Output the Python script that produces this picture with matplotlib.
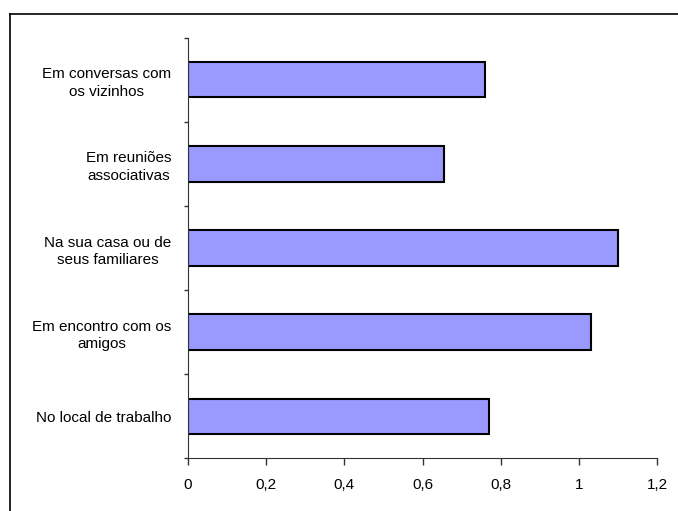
import matplotlib
matplotlib.use("Agg")
import matplotlib.pyplot as plt
from matplotlib.lines import Line2D

categories = [
    "Em conversas com\nos vizinhos",
    "Em reuniões\nassociativas",
    "Na sua casa ou de\nseus familiares",
    "Em encontro com os\namigos",
    "No local de trabalho",
]
values = [0.76, 0.655, 1.10, 1.03, 0.77]
xticks = [0, 0.2, 0.4, 0.6, 0.8, 1.0, 1.2]
xtick_labels = ["0", "0,2", "0,4", "0,6", "0,8", "1", "1,2"]

plt.rcParams['font.family'] = ['Liberation Sans', 'DejaVu Sans']

fig = plt.figure(figsize=(6.78, 5.11), dpi=100)
ax = fig.add_axes([188/678, 1 - 458.3/511, (657-188)/678, (458.3-37.7)/511])

n = len(categories)
ypos = list(range(n))
ax.barh(ypos, values, height=0.42, color="#9999FF", edgecolor="black", linewidth=1.5)

ax.set_xlim(0, 1.2)
ax.set_ylim(n - 0.5, -0.5)
ax.set_xticks(xticks)
ax.set_xticklabels(xtick_labels, fontsize=11)

ax.set_yticks([i - 0.5 for i in range(n + 1)])
ax.set_yticklabels([])
ax.set_yticks(ypos, minor=True)
ax.set_yticklabels(categories, minor=True, fontsize=11, multialignment="center", linespacing=1.35)
ax.tick_params(axis="y", which="minor", length=0, pad=12)
ax.tick_params(axis="y", which="major", length=3, width=1, color="#333333")
ax.tick_params(axis="x", length=5, width=1, color="#333333", pad=9.5)

for s in ["top", "right"]:
    ax.spines[s].set_visible(False)
ax.spines["left"].set_color("#333333")
ax.spines["bottom"].set_color("#333333")

# outer frame
fig.add_artist(Line2D([10/678, 10/678], [0, 1 - 14.3/511], transform=fig.transFigure, color="black", linewidth=1.2))
fig.add_artist(Line2D([10/678, 1], [1 - 14.3/511, 1 - 14.3/511], transform=fig.transFigure, color="black", linewidth=1.2))

fig.savefig("out.png", dpi=100)
